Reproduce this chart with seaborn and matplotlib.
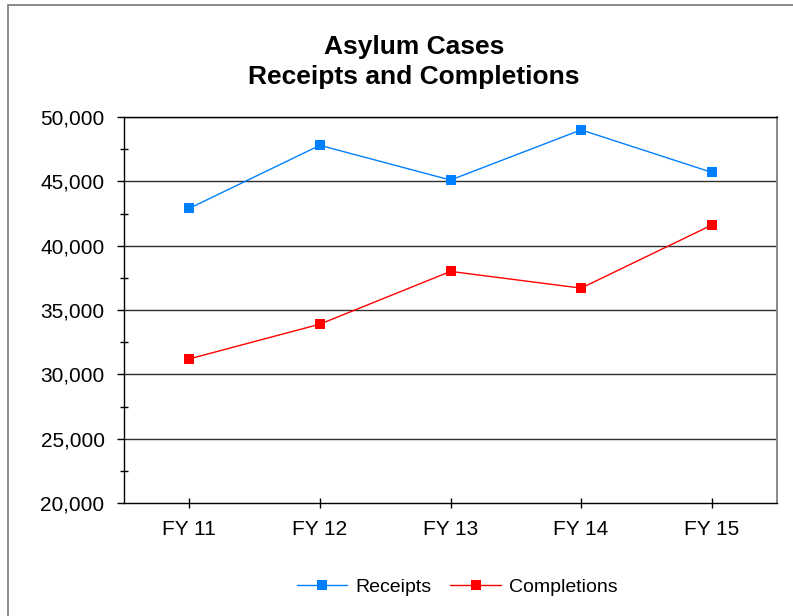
import numpy as np
import pandas as pd
import matplotlib
matplotlib.use("Agg")
import matplotlib.pyplot as plt
import matplotlib.ticker as mticker
from matplotlib.patches import Rectangle
import seaborn as sns

years = ["FY 11", "FY 12", "FY 13", "FY 14", "FY 15"]
receipts = [42900, 47800, 45100, 49000, 45700]
completions = [31200, 33900, 38000, 36700, 41600]
series_names = ["Receipts", "Completions"]
colors = ["#0080FF", "#FF0000"]

df = pd.DataFrame({
    "year": years * 2,
    "cases": receipts + completions,
    "series": [series_names[0]] * len(years) + [series_names[1]] * len(years),
})

sns.set_style("white")
plt.rcParams["font.family"] = ["Liberation Sans", "DejaVu Sans"]
plt.rcParams["text.color"] = "black"
plt.rcParams["xtick.color"] = "black"
plt.rcParams["ytick.color"] = "black"

fig = plt.figure(figsize=(7.93, 6.16), dpi=100)
ax = fig.add_axes([124 / 793, 1 - 503 / 616, (777 - 124) / 793, (503 - 117) / 616])

sns.lineplot(data=df, x="year", y="cases", hue="series", style="series",
             palette=colors, markers=["s", "s"], dashes=False, linewidth=1,
             markersize=6.5, markeredgewidth=0, ax=ax, sort=False)

ax.set_xlim(-0.5, 4.5)
ax.set_ylim(20000, 50000)
ax.yaxis.set_major_locator(mticker.MultipleLocator(5000))
ax.yaxis.set_minor_locator(mticker.MultipleLocator(2500))
ax.yaxis.set_major_formatter(mticker.StrMethodFormatter("{x:,.0f}"))
ax.set_xlabel("")
ax.set_ylabel("")

for v in range(25000, 50001, 5000):
    ax.axhline(v, color="#303030", lw=1, zorder=0)

for s in ["left", "bottom", "top"]:
    ax.spines[s].set_color("black")
    ax.spines[s].set_linewidth(1)
ax.spines["right"].set_color("#808080")
ax.spines["right"].set_linewidth(1.3)

ax.tick_params(axis="y", which="major", direction="out", length=5, width=1,
               color="black", labelcolor="black", labelsize=15, pad=9, left=True)
ax.tick_params(axis="y", which="minor", direction="inout", length=6, width=1,
               color="black", left=True)
ax.tick_params(axis="x", which="major", direction="inout", length=7, width=1,
               color="black", labelcolor="black", labelsize=15, pad=9, bottom=True)

handles, labels = ax.get_legend_handles_labels()
ax.get_legend().remove()
leg = fig.legend(handles, labels, loc="center", bbox_to_anchor=(457 / 793, 1 - 587 / 616),
                 ncol=2, frameon=False, fontsize=14, handlelength=2.6,
                 handletextpad=0.4, columnspacing=1.0)
for t in leg.get_texts():
    t.set_color("black")

fig.text(414 / 793, 1 - 62 / 616, "Asylum Cases\nReceipts and Completions",
         ha="center", va="center", fontsize=19, fontweight="bold",
         color="black", linespacing=1.32)

fig.patches.append(Rectangle((8 / 793, -0.1), 1.0, 1 - 5 / 616 + 0.1,
                             transform=fig.transFigure, fill=False,
                             edgecolor="#808080", lw=1.3))

fig.savefig("out.png", dpi=100)
